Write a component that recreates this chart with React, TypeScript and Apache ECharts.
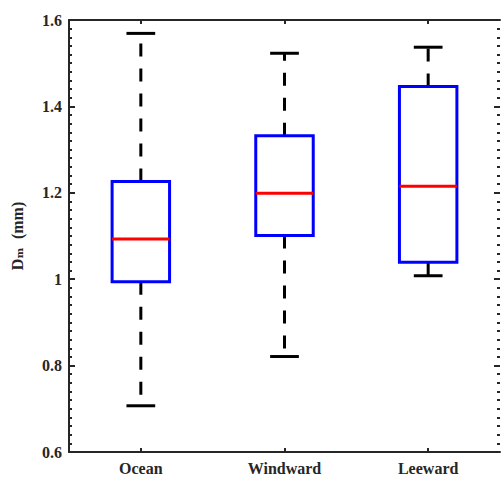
import React, { useEffect, useRef } from "react";
import * as echarts from "echarts";

// Sites and five-number summaries of mean drop diameter (mm)
const sites = ["Ocean", "Windward", "Leeward"];
const lowerWhisker = [0.707, 0.821, 1.008];
const q1 = [0.994, 1.101, 1.039];
const median = [1.093, 1.199, 1.215];
const q3 = [1.226, 1.332, 1.446];
const upperWhisker = [1.569, 1.523, 1.537];
const yTicks = { min: 0.6, max: 1.6, interval: 0.2 };
const yTitle = "D\u2098  (mm)";

const FONT = "'Liberation Serif', 'DejaVu Serif', serif";
const AXIS_COLOR = "#262626";

export default function App() {
  const ref = useRef<HTMLDivElement>(null);

  useEffect(() => {
    document.body.style.margin = "0";
    if (!ref.current) return;
    const chart = echarts.init(ref.current, undefined, { renderer: "svg" });

    const data = sites.map((_, i) => [
      i,
      lowerWhisker[i],
      q1[i],
      median[i],
      q3[i],
      upperWhisker[i],
    ]);

    const renderItem = (params: any, api: any) => {
      const x = api.value(0);
      const lo = api.coord([x, api.value(1)]);
      const b1 = api.coord([x, api.value(2)]);
      const md = api.coord([x, api.value(3)]);
      const b3 = api.coord([x, api.value(4)]);
      const hi = api.coord([x, api.value(5)]);
      const band = api.size([1, 0])[0];
      const bw = band * 0.4;
      const cw = band * 0.2;
      const cx = b1[0];
      const whisker = { stroke: "#000", lineWidth: 3, lineDash: [13, 12] };
      const cap = { stroke: "#000", lineWidth: 3 };
      return {
        type: "group",
        children: [
          { type: "line", shape: { x1: cx, y1: b3[1], x2: cx, y2: hi[1] }, style: whisker },
          { type: "line", shape: { x1: cx, y1: b1[1], x2: cx, y2: lo[1] }, style: whisker },
          { type: "line", shape: { x1: cx - cw / 2, y1: hi[1], x2: cx + cw / 2, y2: hi[1] }, style: cap },
          { type: "line", shape: { x1: cx - cw / 2, y1: lo[1], x2: cx + cw / 2, y2: lo[1] }, style: cap },
          {
            type: "rect",
            shape: { x: cx - bw / 2, y: b3[1], width: bw, height: b1[1] - b3[1] },
            style: { fill: "none", stroke: "#0000ff", lineWidth: 3 },
          },
          {
            type: "line",
            shape: { x1: cx - bw / 2, y1: md[1], x2: cx + bw / 2, y2: md[1] },
            style: { stroke: "#ff0000", lineWidth: 3 },
          },
        ],
      };
    };

    const yBase = {
      type: "value" as const,
      min: yTicks.min,
      max: yTicks.max,
      interval: yTicks.interval,
      splitLine: { show: false },
      axisTick: { show: true, inside: true, length: 6, lineStyle: { color: AXIS_COLOR, width: 2 } },
      minorTick: { show: true, splitNumber: 10, length: 3, lineStyle: { color: AXIS_COLOR, width: 2 } },
    };

    chart.setOption({
      animation: false,
      grid: { left: 69, right: 1, top: 20, bottom: 25 },
      xAxis: [
        {
          type: "category",
          data: sites,
          position: "bottom",
          axisLine: { lineStyle: { color: AXIS_COLOR, width: 2 } },
          axisTick: { show: true, inside: true, alignWithLabel: true, length: 4, lineStyle: { color: AXIS_COLOR, width: 2 } },
          axisLabel: { color: AXIS_COLOR, fontFamily: FONT, fontWeight: "bold", fontSize: 16, margin: 8 },
        },
        {
          type: "category",
          data: sites,
          position: "top",
          axisLine: { lineStyle: { color: AXIS_COLOR, width: 2 } },
          axisTick: { show: true, inside: true, alignWithLabel: true, length: 4, lineStyle: { color: AXIS_COLOR, width: 2 } },
          axisLabel: { show: false },
        },
      ],
      yAxis: [
        {
          ...yBase,
          position: "left",
          axisLine: { show: true, lineStyle: { color: AXIS_COLOR, width: 2 } },
          axisLabel: { color: AXIS_COLOR, fontFamily: FONT, fontWeight: "bold", fontSize: 16, margin: 7 },
          name: yTitle,
          nameLocation: "middle",
          nameGap: 44,
          nameTextStyle: { color: AXIS_COLOR, fontFamily: FONT, fontWeight: "bold", fontSize: 16 },
        },
        {
          ...yBase,
          position: "right",
          axisLine: { show: false },
          axisLabel: { show: false },
        },
      ],
      series: [
        {
          type: "custom",
          xAxisIndex: 0,
          yAxisIndex: 0,
          renderItem,
          encode: { x: 0, y: [1, 2, 3, 4, 5] },
          data,
          clip: false,
        },
      ],
    });

    return () => chart.dispose();
  }, []);

  return <div ref={ref} style={{ width: 501, height: 477 }} />;
}
